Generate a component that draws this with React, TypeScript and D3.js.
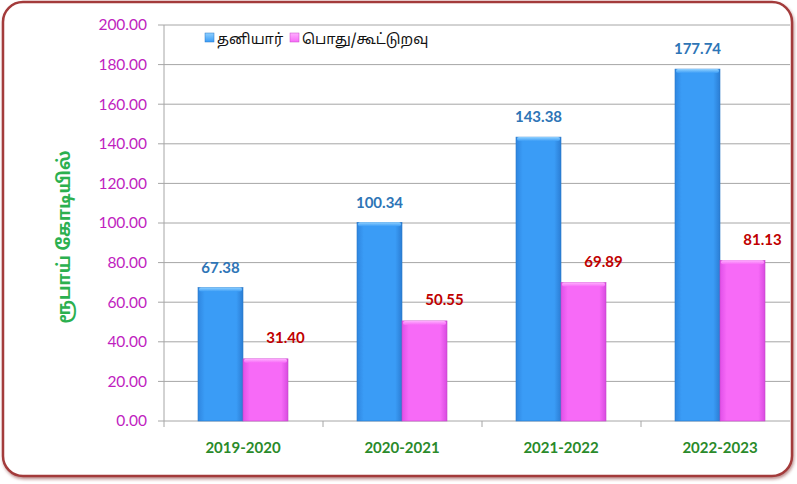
import React from "react";
import * as d3 from "d3";

const categories = ["2019-2020", "2020-2021", "2021-2022", "2022-2023"];
const privateValues = [67.38, 100.34, 143.38, 177.74];
const publicValues = [31.4, 50.55, 69.89, 81.13];
const seriesNames = ["தனியார்", "பொது/கூட்டுறவு"];
const yTicks = [0, 20, 40, 60, 80, 100, 120, 140, 160, 180, 200];
const yTitle = "ரூபாய் கோடியில்";

const W = 797;
const H = 484;
const plot = { left: 164, right: 800, top: 25, bottom: 421 };
const gridRight = 790;

export default function App() {
  const x0 = d3.scaleBand<string>().domain(categories).range([plot.left, plot.right]).paddingInner(0).paddingOuter(0);
  const bw = x0.bandwidth();
  const x1 = d3.scaleBand<string>().domain(["a", "b"]).range([34, 124]).padding(0);
  const y = d3.scaleLinear().domain([0, 200]).range([plot.bottom, plot.top]);
  const labelFont = "Lato, 'Open Sans', sans-serif";
  const tamilFont = "'Noto Sans Tamil', 'Lohit Tamil', 'Noto Sans', sans-serif";

  return (
    <div style={{ position: "absolute", left: 0, top: 0, width: W, height: H, background: "#fff" }}>
      <svg width={W} height={H} style={{ display: "block" }}>
        <defs>
          <linearGradient id="gBlue" x1="0" x2="1" y1="0" y2="0">
            <stop offset="0" stopColor="#2f86e0" />
            <stop offset="0.15" stopColor="#3a9cf6" />
            <stop offset="0.85" stopColor="#3a9cf6" />
            <stop offset="1" stopColor="#2b7dd4" />
          </linearGradient>
          <linearGradient id="gPink" x1="0" x2="1" y1="0" y2="0">
            <stop offset="0" stopColor="#e050e8" />
            <stop offset="0.15" stopColor="#f76af7" />
            <stop offset="0.85" stopColor="#f76af7" />
            <stop offset="1" stopColor="#d84ae0" />
          </linearGradient>
          <linearGradient id="gBlueTop" x1="0" x2="0" y1="0" y2="1">
            <stop offset="0" stopColor="#8fd0ff" />
            <stop offset="1" stopColor="#3a9cf6" />
          </linearGradient>
          <linearGradient id="gPinkTop" x1="0" x2="0" y1="0" y2="1">
            <stop offset="0" stopColor="#ffb0ff" />
            <stop offset="1" stopColor="#f76af7" />
          </linearGradient>
          <filter id="shadow" x="-5%" y="-5%" width="110%" height="110%">
            <feDropShadow dx="1" dy="2" stdDeviation="1.5" floodColor="#7a2020" floodOpacity="0.5" />
          </filter>
        </defs>

        <rect x={3} y={2} width={789} height={474} rx={20} ry={20} fill="#fff" stroke="#a33a3a" strokeWidth={2.5} filter="url(#shadow)" />

        {yTicks.map((t) => (
          <g key={t}>
            <line x1={plot.left - 6} x2={gridRight} y1={y(t)} y2={y(t)} stroke="#a6a6a6" strokeWidth={1} />
            <text x={147} y={y(t)} dy="0.35em" textAnchor="end" fill="#c01ec0" fontFamily={labelFont} fontSize={15.5}>
              {t.toFixed(2)}
            </text>
          </g>
        ))}
        <line x1={plot.left} x2={plot.left} y1={plot.top} y2={plot.bottom} stroke="#a6a6a6" />
        {categories.map((c, i) => (
          <line key={"t" + i} x1={x0(c)!} x2={x0(c)!} y1={plot.bottom} y2={plot.bottom + 6} stroke="#a6a6a6" />
        ))}

        {categories.map((c, i) => {
          const bx = x0(c)! + x1("a")!;
          const px = x0(c)! + x1("b")!;
          const w = x1.bandwidth();
          const by = y(privateValues[i]);
          const py = y(publicValues[i]);
          return (
            <g key={c}>
              <rect x={bx} y={by} width={w} height={plot.bottom - by} fill="url(#gBlue)" stroke="#2a78c8" strokeWidth={0.6} />
              <rect x={bx + 1} y={by} width={w - 2} height={4} rx={2} fill="url(#gBlueTop)" />
              <rect x={px} y={py} width={w} height={plot.bottom - py} fill="url(#gPink)" stroke="#c648c8" strokeWidth={0.6} />
              <rect x={px + 1} y={py} width={w - 2} height={4} rx={2} fill="url(#gPinkTop)" />
              <text x={bx + w / 2} y={by - 20} dy="0.35em" textAnchor="middle" fill="#2e75b6" fontFamily={labelFont} fontWeight={700} fontSize={15}>
                {privateValues[i].toFixed(2)}
              </text>
              <text x={px + w / 2 + 20} y={py - 21} dy="0.35em" textAnchor="middle" fill="#c00000" fontFamily={labelFont} fontWeight={700} fontSize={15}>
                {publicValues[i].toFixed(2)}
              </text>
              <text x={x0(c)! + 79} y={448} dy="0.35em" textAnchor="middle" fill="#2a8a2a" fontFamily={labelFont} fontWeight={700} fontSize={15}>
                {c}
              </text>
            </g>
          );
        })}

        <g>
          <rect x={205} y={33} width={9} height={9} fill="url(#gBlueTop)" stroke="#2a78c8" strokeWidth={0.5} />
          <text x={217} y={44} fill="#111" fontFamily={tamilFont} fontSize={14.5}>{seriesNames[0]}</text>
          <rect x={290} y={33} width={9} height={9} fill="url(#gPinkTop)" stroke="#c648c8" strokeWidth={0.5} />
          <text x={302} y={44} fill="#111" fontFamily={tamilFont} fontSize={14.5}>{seriesNames[1]}</text>
        </g>

        <text transform={`translate(64,237) rotate(-90)`} textAnchor="middle" dy="0.35em" fill="#2bb04f" fontFamily={tamilFont} fontWeight={700} fontSize={17.5}>
          {yTitle}
        </text>
      </svg>
    </div>
  );
}
